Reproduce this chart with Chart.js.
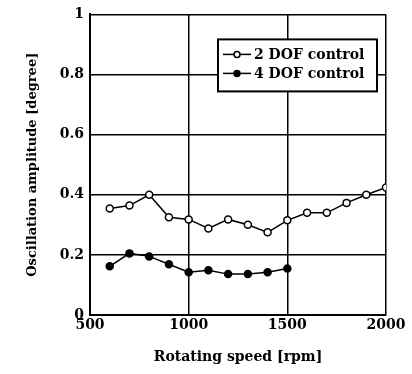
<!DOCTYPE html>
<html>
<head>
<meta charset="utf-8">
<script src="https://cdn.jsdelivr.net/npm/chart.js@4"></script>
<style>
  html, body { margin: 0; padding: 0; background: #fff; }
  #wrap { width: 412px; height: 374px; }
</style>
</head>
<body>
<div id="wrap"><canvas id="chart"></canvas></div>
<script>
const speeds2 = [600, 700, 800, 900, 1000, 1100, 1200, 1300, 1400, 1500, 1600, 1700, 1800, 1900, 2000];
const dof2 = [0.354, 0.364, 0.40, 0.325, 0.318, 0.288, 0.318, 0.30, 0.275, 0.315, 0.34, 0.34, 0.373, 0.40, 0.424];
const speeds4 = [600, 700, 800, 900, 1000, 1100, 1200, 1300, 1400, 1500];
const dof4 = [0.162, 0.205, 0.195, 0.169, 0.142, 0.149, 0.136, 0.136, 0.142, 0.155];
const xTicks = [500, 1000, 1500, 2000];
const yTicks = [0, 0.2, 0.4, 0.6, 0.8, 1];

const serif = '"DejaVu Serif", "Liberation Serif", serif';

// boxed legend drawn inside the plot area
const boxLegend = {
    id: 'boxLegend',
    afterDatasetsDraw(chart) {
        const ctx = chart.ctx;
        const area = chart.chartArea;
        const w = 159, h = 52;
        const x = area.right - 9 - w;
        const y = area.top + 25;
        ctx.save();
        ctx.fillStyle = '#fff';
        ctx.fillRect(x, y, w, h);
        ctx.strokeStyle = '#000';
        ctx.lineWidth = 2;
        ctx.strokeRect(x, y, w, h);
        ctx.font = 'bold 14px ' + serif;
        ctx.textBaseline = 'middle';
        chart.data.datasets.forEach((ds, i) => {
            const cy = y + 15 + i * 19;
            ctx.strokeStyle = '#000';
            ctx.lineWidth = 1.5;
            ctx.beginPath();
            ctx.moveTo(x + 5, cy);
            ctx.lineTo(x + 33, cy);
            ctx.stroke();
            ctx.beginPath();
            ctx.arc(x + 19, cy, 3, 0, Math.PI * 2);
            ctx.fillStyle = ds.pointBackgroundColor;
            ctx.fill();
            ctx.stroke();
            ctx.fillStyle = '#000';
            ctx.fillText(ds.label, x + 36, cy + 1);
        });
        ctx.restore();
    }
};

new Chart(document.getElementById('chart'), {
    type: 'line',
    data: {
        datasets: [
            {
                label: '2 DOF control',
                data: speeds2.map((s, i) => ({ x: s, y: dof2[i] })),
                borderColor: '#000',
                borderWidth: 1.5,
                pointBackgroundColor: '#fff',
                pointBorderColor: '#000',
                pointBorderWidth: 1.5,
                pointRadius: 3.5,
                fill: false
            },
            {
                label: '4 DOF control',
                data: speeds4.map((s, i) => ({ x: s, y: dof4[i] })),
                borderColor: '#000',
                borderWidth: 1.5,
                pointBackgroundColor: '#000',
                pointBorderColor: '#000',
                pointBorderWidth: 1.5,
                pointRadius: 3.5,
                fill: false
            }
        ]
    },
    options: {
        responsive: true,
        maintainAspectRatio: false,
        animation: false,
        layout: { padding: { left: 0, right: 26, top: 13, bottom: 0 } },
        plugins: {
            legend: { display: false },
            tooltip: { enabled: false }
        },
        scales: {
            x: {
                type: 'linear',
                min: 500,
                max: 2000,
                afterBuildTicks: (axis) => { axis.ticks = xTicks.map(v => ({ value: v })); },
                afterFit: (axis) => { axis.height = 59; },
                grid: { color: '#000', lineWidth: 1.5, drawTicks: false },
                border: { color: '#000', width: 2 },
                ticks: {
                    color: '#000',
                    padding: 2,
                    font: { family: serif, size: 14, weight: 'bold' },
                    callback: (v) => String(v)
                },
                title: {
                    display: true,
                    text: 'Rotating speed [rpm]',
                    color: '#000',
                    padding: { top: 4, bottom: 8 },
                    font: { family: serif, size: 14, weight: 'bold' }
                }
            },
            y: {
                min: 0,
                max: 1,
                afterBuildTicks: (axis) => { axis.ticks = yTicks.map(v => ({ value: v })); },
                afterFit: (axis) => { axis.width = 90; },
                grid: { color: '#000', lineWidth: 1.5, drawTicks: false },
                border: { color: '#000', width: 2 },
                ticks: {
                    color: '#000',
                    padding: 6,
                    font: { family: serif, size: 14, weight: 'bold' },
                    callback: (v) => String(v)
                },
                title: {
                    display: true,
                    text: 'Oscillation amplitude [degree]',
                    color: '#000',
                    padding: { top: 25, bottom: 0 },
                    font: { family: serif, size: 13, weight: 'bold' }
                }
            }
        }
    },
    plugins: [boxLegend]
});
</script>
</body>
</html>
